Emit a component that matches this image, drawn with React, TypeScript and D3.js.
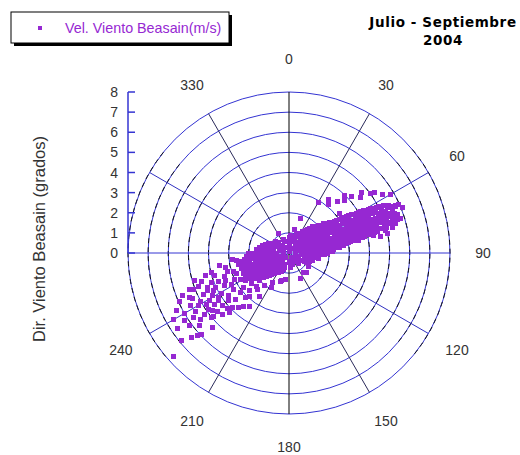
import React from "react";
import * as d3 from "d3";

// [direction (deg), speed (m/s)]
const centerPts: [number, number][] = [
  [0, 0.05], [30, 0.25], [95, 0.3], [150, 0.25], [215, 0.3], [275, 0.25], [335, 0.3],
  [0, 0.38], [60, 0.4], [120, 0.36], [180, 0.4], [240, 0.38], [300, 0.4],
  [5, 0.5], [40, 0.52], [75, 0.48], [110, 0.5], [145, 0.5], [180, 0.48], [215, 0.52], [250, 0.5], [285, 0.5], [320, 0.48],
  [20, 0.62], [57, 0.64], [95, 0.6], [130, 0.62], [165, 0.6], [200, 0.63], [235, 0.6], [268, 0.62], [303, 0.64], [340, 0.6],
  [0, 0.75], [22, 0.78], [42, 0.73], [62, 0.76], [82, 0.74], [102, 0.77], [122, 0.73], [140, 0.7], [175, 0.72],
  [196, 0.76], [216, 0.73], [236, 0.77], [256, 0.74], [276, 0.76], [296, 0.73], [316, 0.75], [338, 0.72],
  [6, 0.88], [22, 0.86], [38, 0.9], [54, 0.87], [70, 0.89], [86, 0.86], [102, 0.9], [118, 0.87],
  [198, 0.88], [214, 0.9], [230, 0.86], [246, 0.89], [262, 0.87], [278, 0.9], [294, 0.86], [310, 0.88],
];

const armNE: [number, number][] = [
  [22, 1.0], [34, 0.98], [46, 1.02], [58, 0.99], [70, 1.01], [82, 0.98], [94, 1.02], [106, 1.0], [118, 0.97],
  [28, 1.12], [39, 1.1], [50, 1.14], [61, 1.11], [72, 1.13], [83, 1.1], [94, 1.14], [104, 1.11], [113, 1.12],
  [33, 1.25], [44, 1.23], [55, 1.27], [66, 1.24], [77, 1.26], [88, 1.23], [99, 1.26], [108, 1.24],
  [36, 1.38], [45, 1.36], [54, 1.4], [63, 1.37], [72, 1.39], [81, 1.36], [90, 1.4], [99, 1.37],
  [38, 1.5], [48, 1.52], [58, 1.48], [68, 1.51], [78, 1.49], [88, 1.52], [97, 1.48],
  [40, 1.62], [49, 1.6], [58, 1.64], [67, 1.61], [76, 1.63], [85, 1.6], [93, 1.64],
  [42, 1.75], [51, 1.73], [60, 1.77], [69, 1.74], [78, 1.76], [86, 1.73], [93, 1.77],
  [45, 1.88], [53, 1.86], [61, 1.9], [69, 1.87], [77, 1.89], [85, 1.86], [91, 1.9],
  [47, 2.0], [55, 2.02], [63, 1.98], [71, 2.01], [79, 1.99], [87, 2.02],
  [49, 2.12], [56, 2.1], [63, 2.14], [70, 2.11], [77, 2.13], [84, 2.1], [88, 2.14],
  [50, 2.25], [57, 2.23], [64, 2.27], [71, 2.24], [78, 2.26], [85, 2.24],
  [52, 2.38], [58, 2.36], [64.5, 2.4], [71, 2.37], [77, 2.39], [83, 2.36],
  [53, 2.5], [59.5, 2.52], [66, 2.48], [72, 2.51], [78, 2.49], [83.5, 2.52],
  [54, 2.62], [60, 2.6], [65.5, 2.64], [71, 2.61], [76.5, 2.63], [82, 2.6],
  [55, 2.75], [61, 2.73], [66.5, 2.77], [72, 2.74], [77, 2.76], [82, 2.74],
  [55.5, 2.88], [61, 2.86], [66, 2.9], [71, 2.87], [76, 2.89], [81, 2.86],
  [56.5, 3.0], [61.5, 3.02], [66.5, 2.98], [71, 3.01], [75.5, 2.99], [80, 3.02],
  [57, 3.12], [62, 3.1], [66.5, 3.14], [71, 3.11], [75.5, 3.13], [79.5, 3.1],
  [57.5, 3.25], [62, 3.23], [66.5, 3.27], [71, 3.24], [75, 3.26], [79, 3.24],
  [58, 3.38], [62.5, 3.36], [67, 3.4], [71, 3.37], [75, 3.39], [79, 3.36],
  [58, 3.5], [62.5, 3.52], [67, 3.48], [71, 3.51], [75, 3.49], [78.5, 3.52],
  [58.5, 3.62], [63, 3.6], [67, 3.64], [71, 3.61], [75, 3.63], [78, 3.6],
  [59, 3.75], [63, 3.73], [67, 3.77], [71, 3.74], [74.5, 3.76], [78, 3.74],
  [59.5, 3.88], [63.5, 3.86], [67.5, 3.9], [71, 3.87], [74.5, 3.89], [77.5, 3.86],
  [60, 4.0], [64, 4.02], [67.5, 3.98], [71, 4.01], [74.5, 3.99], [77, 4.02],
  [60, 4.12], [64, 4.1], [67.5, 4.14], [71, 4.11], [74.5, 4.13], [77, 4.1],
  [60.5, 4.25], [64, 4.23], [67.5, 4.27], [71, 4.24], [74, 4.26], [76.5, 4.24],
  [61, 4.38], [64.5, 4.36], [68, 4.4], [71, 4.37], [74, 4.39], [76.5, 4.36],
  [61, 4.5], [64.5, 4.52], [68, 4.48], [71, 4.51], [74, 4.49], [76.5, 4.52],
  [61.5, 4.62], [65, 4.6], [68.5, 4.64], [71.5, 4.61], [74.5, 4.63],
  [62, 4.75], [65, 4.73], [68.5, 4.77], [71.5, 4.74], [75, 4.76],
  [62.5, 4.88], [66, 4.86], [69, 4.9], [72, 4.87], [75, 4.89],
  [62.5, 5.0], [66, 5.02], [69, 4.98], [72, 5.01], [75, 4.99],
  [63.5, 5.12], [67, 5.1], [70, 5.14], [73, 5.11],
  [63.5, 5.25], [67, 5.23], [70, 5.27], [73.5, 5.24],
  [65, 5.38], [68.5, 5.36], [72, 5.4],
  [64.5, 5.5], [68, 5.52], [71.5, 5.48], [74.5, 5.51],
  [66, 5.62], [69.5, 5.6], [73, 5.64],
  [66.5, 5.75], [70.5, 5.73],
];

const armSW: [number, number][] = [
  [202, 1.0], [214, 0.98], [226, 1.02], [238, 0.99], [250, 1.01], [262, 0.98], [274, 1.02], [286, 1.0], [298, 0.97],
  [208, 1.12], [219, 1.1], [230, 1.14], [241, 1.11], [252, 1.13], [263, 1.1], [274, 1.14], [285, 1.11], [294, 1.12],
  [214, 1.25], [225, 1.23], [236, 1.27], [247, 1.24], [258, 1.26], [269, 1.23], [280, 1.26], [289, 1.24],
  [218, 1.38], [228, 1.36], [238, 1.4], [248, 1.37], [258, 1.39], [268, 1.36], [278, 1.4], [286, 1.37],
  [221, 1.5], [231, 1.52], [241, 1.48], [251, 1.51], [261, 1.49], [271, 1.52], [280, 1.48],
  [223, 1.62], [232, 1.6], [241, 1.64], [250, 1.61], [259, 1.63], [268, 1.6], [276, 1.64],
  [226, 1.75], [235, 1.73], [244, 1.77], [253, 1.74], [262, 1.76], [270, 1.73],
  [229, 1.88], [237, 1.86], [245, 1.9], [253, 1.87], [261, 1.89], [269, 1.86],
  [231, 2.0], [239, 2.02], [247, 1.98], [255, 2.01], [263, 1.99], [269, 2.02],
  [234, 2.12], [242, 2.1], [250, 2.14], [258, 2.11], [265, 2.13],
  [238, 2.25], [246, 2.23], [254, 2.27], [262, 2.24],
  [240, 2.35], [248, 2.33], [256, 2.37],
  [243, 2.45], [252, 2.47], [260, 2.44],
];

const outliers: [number, number][] = [
  [18, 1.8], [14, 1.2], [43, 3.5], [39, 3.1], [44, 4.0], [48, 4.2], [50, 4.7], [55, 5.2], [66, 5.8], [73, 5.8],
  [76, 5.3], [77, 4.9], [78, 4.3], [100, 1.5], [142, 1.2], [66, 5.95], [68, 6.1], [30, 2.9], [36, 3.3], [331, 1.1],
  [137, 1.3], [156, 1.4], [195, 1.4], [209, 1.65], [80, 3.5], [126, 1.17],
  [52, 4.5], [54, 5.0], [58, 5.5], [60, 5.8], [80, 4.6], [79, 5.0], [47, 3.8], [52, 3.2],
  [258, 2.35], [257, 2.6], [253, 3.2], [249, 2.8], [253, 3.85], [255, 4.3], [248, 3.8], [249, 4.1], [247, 3.45],
  [241, 3.25], [233, 2.85], [231, 2.4], [227, 2.0], [217, 2.0], [207, 1.9], [197, 1.5], [188, 1.35], [250, 4.8],
  [245, 4.45], [250, 5.25], [245, 5.3], [241, 5.0], [241, 4.35], [238, 4.15], [235, 3.7], [229, 3.55], [224, 3.1],
  [216, 3.3], [223, 3.7], [232, 4.2], [235, 4.5], [235, 4.9], [231, 4.6], [227, 4.5], [230, 5.0], [234, 5.2],
  [240, 5.2], [236, 5.75], [240, 6.0], [231, 5.7], [228, 6.1], [236, 6.7], [228, 7.7], [227, 5.95], [246, 5.4],
  [238, 4.85], [236, 4.25], [228, 4.1], [225, 4.2], [230, 4.9], [246, 5.95], [243, 6.3], [249, 5.1], [244, 4.75],
  [247, 4.4], [245, 4.05], [239, 3.9], [262, 2.65], [238, 2.55], [226, 2.7], [233, 2.05], [220, 2.4], [231, 3.1],
  [256, 3.95], [257, 3.25], [263, 2.85],
  [252, 2.9], [244, 3.0], [250, 3.4], [243, 3.6], [237, 3.3], [232, 3.8], [226, 3.9], [220, 3.5], [244, 4.2],
  [252, 4.55], [239, 4.6], [233, 4.75], [242, 5.55], [238, 5.45], [233, 5.5], [226, 5.3], [229, 6.4], [237, 6.2],
  [222, 2.9], [214, 2.6], [246, 2.45], [236, 2.3], [224, 2.3], [260, 3.5], [254, 4.9], [248, 5.7], [234, 6.1],
  [240, 6.6], [231, 6.9], [241, 2.75],
];

const radialTicks = [0, 1, 2, 3, 4, 5, 6, 7, 8];
const spokeAngles = [0, 30, 60, 90, 120, 150, 180, 210, 240, 270, 300, 330];
const angleLabels = [0, 30, 60, 90, 120, 150, 180, 210, 240, 330];
const legendLabel = "Vel. Viento Beasain(m/s)";
const titleLines = ["Julio - Septiembre", "2004"];
const axisTitle = "Dir. Viento Beasain (grados)";

const W = 520, H = 455;
const cx = 289, cy = 253, R = 161;
const PURPLE = "#9628d2";
const BLUE = "#3434d2";

export default function App() {
  const r = d3.scaleLinear().domain([0, 8]).range([0, R]);
  const toRad = (deg: number) => (deg * Math.PI) / 180;
  const pt = (dir: number, s: number) => {
    const [x, y] = d3.pointRadial(toRad(dir), r(s));
    return [cx + x, cy + y];
  };
  const all = [...centerPts, ...armNE, ...armSW, ...outliers];
  const ms = 5;

  const sideArc = (rad: number, a0: number, a1: number) => {
    const p = d3.path();
    p.arc(cx, cy, rad, toRad(a0), toRad(a1));
    return p.toString();
  };

  const spokeColor = (a: number) => {
    if (a % 180 === 0) return "#000";
    if (a % 180 === 90) return BLUE;
    if (a === 30 || a === 150 || a === 210 || a === 330) return "#2a2a5a";
    return "#3030c0";
  };

  return (
    <svg width={W} height={H} style={{ position: "absolute", left: 0, top: 0, background: "#fff" }}
      fontFamily="'Liberation Sans', Arial, sans-serif">
      {radialTicks.filter((t) => t > 0).map((t) => (
        <g key={"c" + t}>
          <circle cx={cx} cy={cy} r={r(t)} fill="none" stroke={BLUE} strokeWidth={1} />
          <path d={sideArc(r(t), -40, 40)} fill="none" stroke="#111" strokeWidth={1} strokeDasharray="5 4" />
          <path d={sideArc(r(t), 140, 220)} fill="none" stroke="#111" strokeWidth={1} strokeDasharray="5 4" />
        </g>
      ))}
      {spokeAngles.map((a) => {
        const [x, y] = pt(a, 8);
        return <line key={"s" + a} x1={cx} y1={cy} x2={x} y2={y} stroke={spokeColor(a)} strokeWidth={1} />;
      })}
      <line x1={cx - R} y1={cy - R} x2={cx - R} y2={cy} stroke={BLUE} strokeWidth={1.5} />
      {radialTicks.map((t) => (
        <g key={"t" + t}>
          <line x1={cx - R} x2={cx - R + 7} y1={cy - r(t)} y2={cy - r(t)} stroke={BLUE} strokeWidth={1.5} />
          <text x={cx - R - 10} y={cy - r(t)} textAnchor="end" dominantBaseline="central" fontSize={14} fill="#333">
            {t}
          </text>
        </g>
      ))}
      {angleLabels.map((a) => {
        const [x, y] = d3.pointRadial(toRad(a), 194);
        return (
          <text key={"a" + a} x={cx + x} y={cy + y} textAnchor="middle" dominantBaseline="central" fontSize={14} fill="#333">
            {a}
          </text>
        );
      })}
      <g shapeRendering="crispEdges">
        {all.map(([d, s], i) => {
          const [x, y] = pt(d, s);
          return <rect key={"p" + i} x={Math.round(x - ms / 2)} y={Math.round(y - ms / 2)} width={ms} height={ms} fill={PURPLE} />;
        })}
      </g>
      <text transform={`translate(45,239) rotate(-90)`} textAnchor="middle" fontSize={16.5} fill="#333">
        {axisTitle}
      </text>
      <rect x={14} y={15} width={218} height={31} fill="#000" />
      <rect x={11} y={12} width={218} height={31} fill="#fff" stroke="#000" strokeWidth={1} />
      <rect x={38} y={26} width={4} height={4} fill={PURPLE} />
      <text x={65} y={33} fontSize={14.3} fill={PURPLE}>{legendLabel}</text>
      {titleLines.map((t, i) => (
        <text key={"ti" + i} x={443} y={27 + i * 18} textAnchor="middle" fontSize={13.5} fontWeight="bold"
          letterSpacing={0.6} fontFamily="'DejaVu Sans', Verdana, sans-serif" fill="#000">
          {t}
        </text>
      ))}
    </svg>
  );
}
